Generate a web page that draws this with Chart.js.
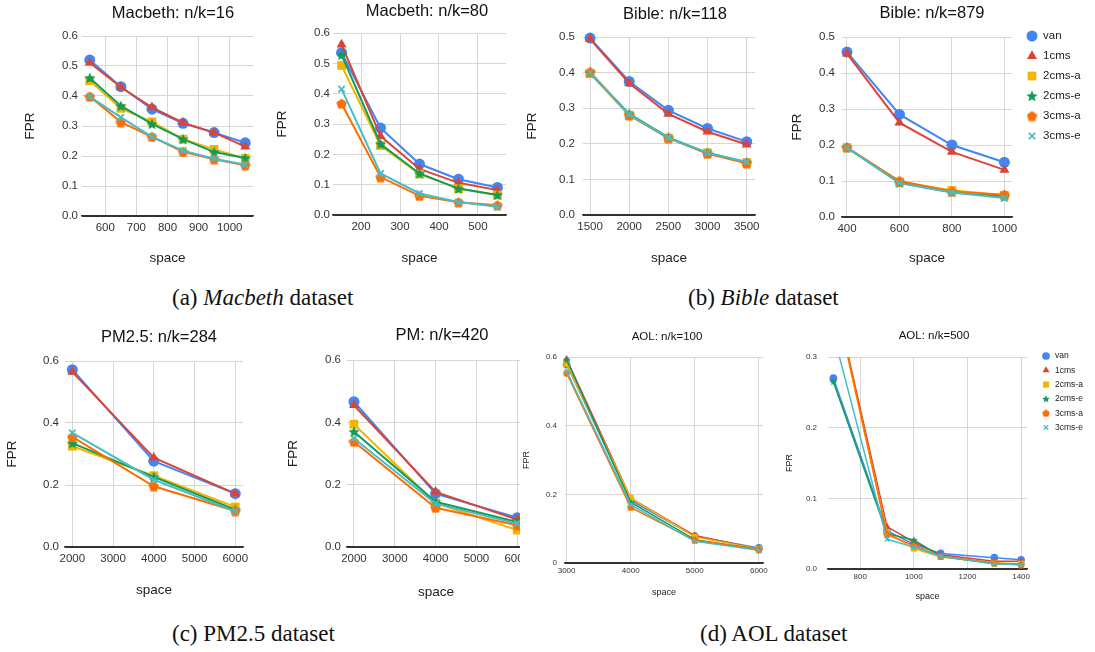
<!DOCTYPE html>
<html>
<head>
<meta charset="utf-8">
<script src="https://cdn.jsdelivr.net/npm/chart.js@4.4.1/dist/chart.umd.min.js"></script>
<style>
  body { margin: 0; background: #fff; width: 1095px; height: 652px; position: relative; overflow: hidden; }
  .panel { position: absolute; overflow: hidden; }
  .cap { position: absolute; font-family: "Liberation Serif", "DejaVu Serif", serif; font-size: 23px; line-height: 1; color: #111; white-space: nowrap; }
</style>
</head>
<body>
<div class="cap" style="left:172px;top:286px">(a) <i>Macbeth</i> dataset</div>
<div class="cap" style="left:688px;top:286px">(b) <i>Bible</i> dataset</div>
<div class="cap" style="left:172px;top:622px">(c) PM2.5 dataset</div>
<div class="cap" style="left:700px;top:622px">(d) AOL dataset</div>
<script>
// --- series shared by all panels ---
const seriesNames = ['van', '1cms', '2cms-a', '2cms-e', '3cms-a', '3cms-e'];
const seriesColors = ['#4285f4', '#db4437', '#f4b400', '#0f9d58', '#ff6d01', '#46bdc6'];

// --- Macbeth n/k=16 ---
const mac16Space = [550, 650, 750, 850, 950, 1050];
const mac16Fpr = [
  [0.520, 0.431, 0.356, 0.309, 0.278, 0.244], // van
  [0.511, 0.429, 0.362, 0.311, 0.278, 0.231], // 1cms
  [0.451, 0.359, 0.314, 0.256, 0.222, 0.192], // 2cms-a
  [0.460, 0.367, 0.307, 0.256, 0.213, 0.193], // 2cms-e
  [0.398, 0.313, 0.264, 0.214, 0.189, 0.169], // 3cms-a
  [0.398, 0.329, 0.264, 0.218, 0.191, 0.171]  // 3cms-e
];
const mac16XTicks = [600, 700, 800, 900, 1000];

// --- Macbeth n/k=80 ---
const mac80Space = [150, 250, 350, 450, 550];
const mac80Fpr = [
  [0.535, 0.287, 0.168, 0.118, 0.091],
  [0.562, 0.260, 0.152, 0.106, 0.082],
  [0.493, 0.229, 0.135, 0.087, 0.066],
  [0.528, 0.234, 0.137, 0.087, 0.066],
  [0.367, 0.125, 0.063, 0.042, 0.032],
  [0.415, 0.137, 0.071, 0.043, 0.027]
];
const mac80XTicks = [200, 300, 400, 500];

// --- Bible n/k=118 ---
const bib118Space = [1500, 2000, 2500, 3000, 3500];
const bib118Fpr = [
  [0.497, 0.375, 0.294, 0.243, 0.206],
  [0.494, 0.370, 0.284, 0.234, 0.198],
  [0.397, 0.280, 0.216, 0.175, 0.147],
  [0.400, 0.284, 0.218, 0.174, 0.148],
  [0.402, 0.280, 0.216, 0.172, 0.145],
  [0.400, 0.282, 0.217, 0.174, 0.149]
];
const bib118XTicks = [1500, 2000, 2500, 3000, 3500];

// --- Bible n/k=879 ---
const bib879Space = [400, 600, 800, 1000];
const bib879Fpr = [
  [0.458, 0.285, 0.200, 0.152],
  [0.454, 0.262, 0.181, 0.131],
  [0.193, 0.097, 0.074, 0.060],
  [0.193, 0.095, 0.069, 0.056],
  [0.193, 0.100, 0.071, 0.062],
  [0.192, 0.094, 0.068, 0.053]
];
const bib879XTicks = [400, 600, 800, 1000];

// --- PM2.5 n/k=284 ---
const pm284Space = [2000, 4000, 6000];
const pm284Fpr = [
  [0.572, 0.277, 0.172],
  [0.565, 0.288, 0.172],
  [0.325, 0.230, 0.129],
  [0.335, 0.226, 0.120],
  [0.355, 0.196, 0.116],
  [0.368, 0.217, 0.115]
];
// --- PM n/k=420 ---
const pm420Space = [2000, 4000, 6000];
const pm420Fpr = [
  [0.466, 0.171, 0.094],
  [0.455, 0.177, 0.088],
  [0.394, 0.141, 0.054],
  [0.370, 0.145, 0.080],
  [0.338, 0.126, 0.070],
  [0.348, 0.139, 0.075]
];
const pmXTicks = [2000, 3000, 4000, 5000, 6000];

// --- AOL n/k=100 ---
const aol100Space = [3000, 4000, 5000, 6000];
const aol100Fpr = [
  [0.578, 0.183, 0.078, 0.044],
  [0.594, 0.189, 0.080, 0.041],
  [0.580, 0.189, 0.076, 0.041],
  [0.592, 0.177, 0.068, 0.039],
  [0.553, 0.162, 0.066, 0.039],
  [0.558, 0.170, 0.063, 0.037]
];
const aol100XTicks = [3000, 4000, 5000, 6000];

// --- AOL n/k=500 ---
const aol500Space = [700, 900, 1000, 1100, 1300, 1400];
const aol500Fpr = [
  [0.270, 0.054, 0.035, 0.022, 0.016, 0.013],
  [0.395, 0.060, 0.038, 0.020, 0.011, 0.011],
  [0.390, 0.052, 0.029, 0.017, 0.0085, 0.0075],
  [0.265, 0.050, 0.041, 0.018, 0.0075, 0.0066],
  [0.395, 0.049, 0.033, 0.018, 0.009, 0.0057],
  [0.333, 0.042, 0.031, 0.018, 0.0075, 0.006]
];
const aol500XTicks = [800, 1000, 1200, 1400];

const yTicks6 = [0, 0.1, 0.2, 0.3, 0.4, 0.5, 0.6];
const yTicks5 = [0, 0.1, 0.2, 0.3, 0.4, 0.5];
const yTicksPm = [0, 0.2, 0.4, 0.6];
const yTicksAol500 = [0, 0.1, 0.2, 0.3];

Chart.defaults.font.family = '"Liberation Sans", Arial, sans-serif';

// filled star / pentagon markers (Chart.js only has outline versions)
function shapeCanvas(kind, size, color) {
  const c = document.createElement('canvas');
  c.width = c.height = size;
  const g = c.getContext('2d');
  const r = size / 2;
  const n = kind === 'star' ? 10 : 5;
  g.fillStyle = color;
  g.beginPath();
  for (let i = 0; i < n; i++) {
    const a = -Math.PI / 2 + i * 2 * Math.PI / n;
    const rr = kind === 'star' ? (i % 2 ? r * 0.45 : r) : r;
    g.lineTo(r + rr * Math.cos(a), r * 1.08 + rr * Math.sin(a));
  }
  g.closePath();
  g.fill();
  return c;
}

// draws the legend beside the plot, using the datasets' own markers
const sideLegend = {
  id: 'sideLegend',
  afterDraw(chart, args, opts) {
    if (!opts.show) return;
    const ctx = chart.ctx;
    ctx.save();
    chart.data.datasets.forEach((ds, i) => {
      const y = opts.y + i * opts.gap;
      ctx.fillStyle = ds.pointBackgroundColor;
      ctx.strokeStyle = ds.pointBorderColor;
      ctx.lineWidth = ds.pointBorderWidth;
      Chart.helpers.drawPoint(ctx, {
        pointStyle: ds.pointStyle, radius: ds.pointRadius,
        borderWidth: ds.pointBorderWidth, rotation: 0
      }, opts.markX, y);
      ctx.fillStyle = '#222';
      ctx.font = opts.fontSize + 'px "Liberation Sans", Arial, sans-serif';
      ctx.textBaseline = 'middle';
      ctx.textAlign = 'left';
      ctx.fillText(ds.label, opts.textX, y);
    });
    ctx.restore();
  }
};

function buildPanel(p) {
  const k = p.small ? 0.7 : 1;
  const titleSize = p.small ? 11.5 : 16.5;
  const axisSize = p.small ? 9 : 13.5;
  const tickSize = p.small ? 8 : 11.5;
  const lhT = titleSize * 1.2, lhA = axisSize * 1.2;

  const leftNeed = p.yTitleX - lhA / 2 - 2;
  const rightNeed = p.legend ? 1094 : p.area.r + 6;
  const half = Math.ceil(Math.max(p.titleX - leftNeed, rightNeed - p.titleX));
  const cx = Math.round(p.titleX - half), cw = 2 * half;
  const cy = Math.floor(p.titleY - lhT / 2 - 1);
  const ch = Math.ceil(p.xTitleY + lhA / 2 + 3) - cy;

  const wrap = document.createElement('div');
  wrap.className = 'panel';
  wrap.style.left = cx + 'px';
  wrap.style.top = cy + 'px';
  wrap.style.width = (p.clipRight ? p.clipRight - cx : cw) + 'px';
  wrap.style.height = ch + 'px';
  const canvas = document.createElement('canvas');
  canvas.width = cw;
  canvas.height = ch;
  canvas.style.width = cw + 'px';
  canvas.style.height = ch + 'px';
  wrap.appendChild(canvas);
  document.body.appendChild(wrap);

  const styles = ['circle', 'triangle', 'rect',
    shapeCanvas('star', Math.round(12 * k), seriesColors[3]),
    shapeCanvas('pent', Math.round(11 * k), seriesColors[4]),
    'crossRot'];
  const radii = [5.5, 5.8, 6.2, 6, 5.5, 4.5];

  const titlePadTop = p.titleY - lhT / 2 - cy;
  const datasets = seriesNames.map((name, i) => ({
    label: name,
    data: p.space.map((x, j) => ({ x: x, y: p.fpr[i][j] })),
    borderColor: seriesColors[i],
    backgroundColor: seriesColors[i],
    borderWidth: p.small ? 1.5 : 2,
    pointStyle: styles[i],
    pointRadius: radii[i] * k,
    pointHoverRadius: radii[i] * k,
    pointBackgroundColor: seriesColors[i],
    pointBorderColor: seriesColors[i],
    pointBorderWidth: i === 5 ? 1.8 * k : 0,
    tension: 0,
    clip: p.clip === undefined ? 8 : p.clip,
    order: seriesNames.length - i
  }));

  new Chart(canvas, {
    type: 'line',
    data: { datasets: datasets },
    plugins: [sideLegend],
    options: {
      responsive: false,
      animation: false,
      devicePixelRatio: 1,
      layout: { padding: 0 },
      plugins: {
        legend: { display: false },
        tooltip: { enabled: false },
        title: {
          display: true,
          text: p.title,
          color: '#111',
          font: { size: titleSize, weight: 'normal' },
          padding: { top: titlePadTop, bottom: p.area.t - cy - titlePadTop - lhT }
        },
        sideLegend: p.legend ? {
          show: true,
          markX: p.legend.markX - cx, textX: p.legend.textX - cx,
          y: p.legend.y - cy, gap: p.legend.gap, fontSize: p.small ? 8.5 : 11.5
        } : { show: false }
      },
      scales: {
        x: {
          type: 'linear',
          min: p.xMin,
          max: p.xMax,
          afterBuildTicks: s => { s.ticks = p.xTicks.map(v => ({ value: v })); },
          afterFit: s => { s.height = cy + ch - p.area.b; },
          grid: { color: '#d6d6d6', lineWidth: 1, drawTicks: false },
          border: { display: true, color: '#333', width: 1.5 },
          ticks: {
            padding: p.small ? 3 : 5, color: '#333', font: { size: tickSize },
            maxRotation: 0, autoSkip: false, callback: v => String(v)
          },
          title: {
            display: true, text: 'space', color: '#222', font: { size: axisSize },
            padding: { top: 0, bottom: cy + ch - p.xTitleY - lhA / 2 }
          }
        },
        y: {
          type: 'linear',
          min: 0,
          max: p.yMax,
          afterBuildTicks: s => { s.ticks = p.yTicks.map(v => ({ value: v })); },
          afterFit: s => { s.width = p.area.l - cx; },
          grid: { color: c => (c.tick && c.tick.value === 0 ? '#333' : '#d6d6d6'), lineWidth: 1, drawTicks: false },
          border: { display: false },
          ticks: {
            padding: p.yTickPad, color: '#333', font: { size: tickSize },
            callback: v => (p.zeroPlain && v === 0 ? '0' : v.toFixed(1))
          },
          title: {
            display: true, text: 'FPR', color: '#222', font: { size: axisSize },
            padding: { top: p.yTitleX - cx - lhA / 2, bottom: 0 }
          }
        },
        // invisible spacer so the plot ends where the reference's does
        pad: {
          type: 'linear',
          position: 'right',
          display: true,
          grid: { display: false },
          border: { display: false },
          ticks: { display: false },
          afterFit: s => { s.width = cx + cw - p.area.r; }
        }
      }
    }
  });
}

const panels = [
  { title: 'Macbeth: n/k=16', space: mac16Space, fpr: mac16Fpr, xTicks: mac16XTicks, yTicks: yTicks6, yMax: 0.6,
    xMin: 525, xMax: 1075, area: { l: 82, t: 36, r: 253, b: 216 }, titleX: 173, titleY: 13, yTitleX: 30, xTitleY: 258, yTickPad: 4 },
  { title: 'Macbeth: n/k=80', space: mac80Space, fpr: mac80Fpr, xTicks: mac80XTicks, yTicks: yTicks6, yMax: 0.6,
    xMin: 128, xMax: 572, area: { l: 333, t: 33, r: 506, b: 215 }, titleX: 427, titleY: 11, yTitleX: 282, xTitleY: 258, yTickPad: 3 },
  { title: 'Bible: n/k=118', space: bib118Space, fpr: bib118Fpr, xTicks: bib118XTicks, yTicks: yTicks5, yMax: 0.5,
    xMin: 1410, xMax: 3606, area: { l: 583, t: 37, r: 755, b: 215 }, titleX: 675, titleY: 14, yTitleX: 532, xTitleY: 258, yTickPad: 8 },
  { title: 'Bible: n/k=879', space: bib879Space, fpr: bib879Fpr, xTicks: bib879XTicks, yTicks: yTicks5, yMax: 0.5,
    xMin: 381, xMax: 1029, area: { l: 842, t: 37, r: 1012, b: 217 }, titleX: 932, titleY: 13, yTitleX: 797, xTitleY: 258, yTickPad: 7,
    legend: { markX: 1032, textX: 1043, y: 36, gap: 20 } },
  { title: 'PM2.5: n/k=284', space: pm284Space, fpr: pm284Fpr, xTicks: pmXTicks, yTicks: yTicksPm, yMax: 0.6,
    xMin: 1820, xMax: 6190, area: { l: 65, t: 361, r: 243, b: 547 }, titleX: 159, titleY: 337, yTitleX: 12, xTitleY: 590, yTickPad: 6 },
  { title: 'PM: n/k=420', space: pm420Space, fpr: pm420Fpr, xTicks: pmXTicks, yTicks: yTicksPm, yMax: 0.6,
    xMin: 1830, xMax: 6190, area: { l: 347, t: 360, r: 525, b: 547 }, titleX: 442, titleY: 335, yTitleX: 293, xTitleY: 592, yTickPad: 6,
    clipRight: 520 },
  { title: 'AOL: n/k=100', space: aol100Space, fpr: aol100Fpr, xTicks: aol100XTicks, yTicks: yTicksPm, yMax: 0.6,
    xMin: 2975, xMax: 6065, area: { l: 565, t: 357, r: 763, b: 563 }, titleX: 667, titleY: 337, yTitleX: 527, xTitleY: 593, yTickPad: 8,
    small: true, zeroPlain: true },
  { title: 'AOL: n/k=500', space: aol500Space, fpr: aol500Fpr, xTicks: aol500XTicks, yTicks: yTicksAol500, yMax: 0.3,
    xMin: 680, xMax: 1422, area: { l: 828, t: 357, r: 1027, b: 569 }, titleX: 934, titleY: 336, yTitleX: 790, xTitleY: 597, yTickPad: 11,
    small: true, clip: 0, legend: { markX: 1046, textX: 1055, y: 356, gap: 14.3 } }
];

panels.forEach(buildPanel);
</script>
</body>
</html>
